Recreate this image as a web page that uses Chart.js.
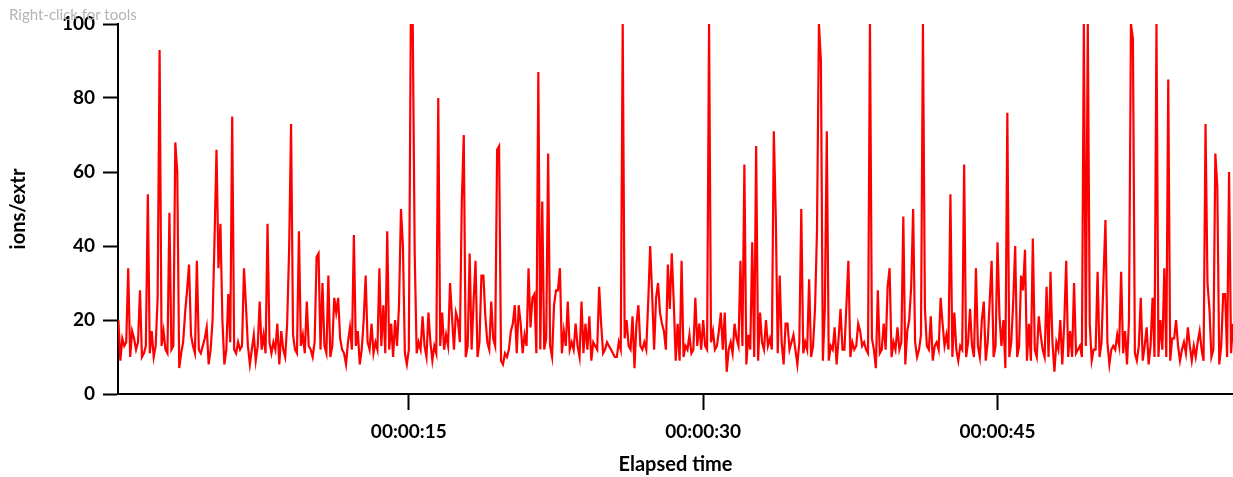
<!DOCTYPE html>
<html>
<head>
<meta charset="utf-8">
<script src="https://cdn.jsdelivr.net/npm/chart.js@4.4.1/dist/chart.umd.min.js"></script>
<style>
  html, body { margin: 0; padding: 0; background: #fff; }
  #wrap { position: relative; width: 1233px; height: 477px; }
  #hint { position: absolute; left: 9px; top: 5px; font: 15px Lato, sans-serif; color: #b4b4b4; }
</style>
</head>
<body>
<div id="wrap">
  <canvas id="ions-chart" width="1233" height="477"></canvas>
  <div id="hint">Right-click for tools</div>
</div>
<script>
// Readings are 0.1 s apart, one row below = one second of elapsed time
const sampleInterval = 0.1;

const ionsExtr = [
  14, 16, 20, 9, 15, 13, 14, 34, 10, 17,
  15, 12, 14, 28, 10, 11, 13, 54, 11, 17,
  10, 13, 26, 93, 13, 17, 12, 11, 49, 12,
  13, 68, 60, 7, 11, 14, 22, 28, 35, 16,
  13, 11, 36, 12, 11, 13, 15, 18, 8, 12,
  20, 42, 66, 34, 46, 20, 8, 12, 27, 14,
  75, 12, 11, 14, 12, 13, 34, 24, 13, 8,
  12, 16, 9, 13, 25, 12, 16, 11, 46, 14,
  11, 14, 12, 19, 8, 17, 12, 10, 19, 39,
  73, 16, 12, 11, 44, 13, 16, 11, 25, 13,
  12, 10, 14, 37, 38, 12, 30, 13, 11, 32,
  10, 13, 26, 22, 26, 15, 12, 11, 8, 14,
  18, 12, 43, 13, 17, 8, 12, 20, 32, 14,
  12, 19, 11, 14, 12, 34, 13, 24, 11, 44,
  12, 19, 10, 20, 13, 24, 50, 40, 11, 8,
  12, 100, 100, 38, 11, 14, 12, 21, 13, 10,
  22, 14, 9, 13, 11, 80, 13, 22, 12, 16,
  13, 30, 21, 12, 22, 20, 14, 52, 70, 10,
  13, 38, 12, 25, 36, 10, 14, 32, 32, 21,
  14, 12, 25, 15, 13, 66, 67, 9, 8, 11,
  10, 12, 17, 19, 24, 11, 24, 19, 11, 16,
  13, 34, 18, 26, 27, 11, 87, 12, 52, 12,
  15, 65, 13, 10, 24, 28, 28, 34, 11, 17,
  13, 25, 12, 14, 12, 19, 13, 10, 25, 11,
  19, 12, 21, 9, 14, 13, 12, 29, 19, 11,
  12, 14, 13, 12, 11, 10, 10, 14, 12, 100,
  15, 20, 13, 12, 21, 7, 19, 24, 13, 12,
  14, 12, 25, 40, 27, 12, 26, 30, 22, 19,
  17, 12, 35, 23, 38, 25, 9, 19, 9, 36,
  10, 13, 12, 16, 11, 12, 26, 13, 19, 12,
  20, 13, 12, 100, 14, 17, 12, 13, 17, 22,
  12, 22, 6, 12, 14, 11, 19, 15, 13, 36,
  13, 62, 8, 16, 12, 41, 10, 67, 9, 22,
  14, 12, 20, 13, 15, 12, 71, 48, 11, 32,
  14, 8, 19, 19, 12, 14, 16, 12, 8, 14,
  50, 11, 14, 12, 31, 10, 13, 23, 44, 100,
  90, 9, 23, 71, 9, 13, 12, 18, 8, 15,
  23, 12, 12, 24, 36, 10, 14, 12, 13, 19,
  17, 13, 14, 12, 11, 100, 15, 12, 7, 28,
  11, 12, 19, 12, 29, 34, 10, 14, 12, 18,
  12, 14, 48, 8, 17, 20, 29, 50, 14, 10,
  12, 16, 100, 23, 13, 12, 21, 9, 13, 14,
  12, 26, 19, 13, 16, 12, 54, 10, 22, 12,
  9, 13, 12, 62, 10, 14, 23, 13, 10, 34,
  13, 10, 20, 25, 9, 14, 25, 36, 10, 13,
  41, 21, 13, 20, 7, 76, 10, 14, 25, 40,
  10, 13, 32, 28, 39, 9, 19, 9, 42, 12,
  10, 21, 16, 12, 10, 29, 10, 33, 14, 6,
  14, 12, 20, 8, 19, 36, 10, 17, 10, 30,
  11, 12, 13, 10, 100, 13, 100, 19, 9, 12,
  12, 33, 10, 14, 31, 47, 14, 8, 12, 13,
  12, 16, 13, 33, 11, 17, 8, 20, 100, 96,
  11, 9, 13, 26, 9, 13, 18, 8, 13, 26,
  10, 100, 10, 20, 12, 34, 10, 85, 9, 15,
  15, 20, 13, 9, 12, 14, 11, 18, 13, 9,
  13, 10, 14, 17, 12, 9, 73, 30, 23, 10,
  12, 65, 56, 8, 13, 27, 27, 10, 60, 11,
  19
];

// axis settings
const timeTicks = [15, 30, 45];      // seconds
const yTicks = [0, 20, 40, 60, 80, 100];
const timeMin = 0.18;
const timeMax = 57;

const points = ionsExtr.map((v, i) => ({ x: Math.round(i * sampleInterval * 100) / 100, y: v }));

// seconds -> hh:mm:ss
function hms(sec) {
  const s = Math.round(sec);
  const pad = (n) => String(n).padStart(2, "0");
  return pad(Math.floor(s / 3600)) + ":" + pad(Math.floor(s / 60) % 60) + ":" + pad(s % 60);
}

const labelFont = { family: "Lato", size: 19, weight: "bold" };
const titleFont = { family: "Lato", size: 20, weight: "bold" };

const chart = new Chart(document.getElementById("ions-chart"), {
  type: "line",
  data: {
    datasets: [
      {
        data: points,
        borderColor: "#ff0000",
        borderWidth: 2.2,
        pointRadius: 0,
        tension: 0,
        fill: false,
      },
    ],
  },
  options: {
    responsive: false,
    animation: false,
    layout: { padding: { top: 24, right: 0, bottom: 0, left: 0 } },
    plugins: {
      legend: { display: false },
      tooltip: { enabled: false },
    },
    scales: {
      x: {
        type: "linear",
        min: timeMin,
        max: timeMax,
        afterBuildTicks: (scale) => {
          scale.ticks = timeTicks.map((v) => ({ value: v }));
        },
        afterFit: (scale) => {
          scale.height = 83;
        },
        grid: { drawOnChartArea: false, tickLength: 16, tickWidth: 2, tickColor: "#000" },
        border: { color: "#000", width: 2 },
        ticks: {
          callback: (v) => hms(v),
          font: labelFont,
          color: "#000",
          padding: 10,
          maxRotation: 0,
          autoSkip: false,
        },
        title: {
          display: true,
          text: "Elapsed time",
          font: titleFont,
          color: "#000",
          padding: { top: 0, bottom: 0 },
        },
      },
      y: {
        min: 0,
        max: 100,
        afterBuildTicks: (scale) => {
          scale.ticks = yTicks.map((v) => ({ value: v }));
        },
        afterFit: (scale) => {
          scale.width = 118;
        },
        grid: { drawOnChartArea: false, tickLength: 15, tickWidth: 2, tickColor: "#000" },
        border: { color: "#000", width: 2 },
        ticks: { font: labelFont, color: "#000", padding: 8 },
        title: {
          display: true,
          text: "ions/extr",
          font: titleFont,
          color: "#000",
          padding: { top: 7, bottom: 0 },
        },
      },
    },
  },
});
</script>
</body>
</html>
